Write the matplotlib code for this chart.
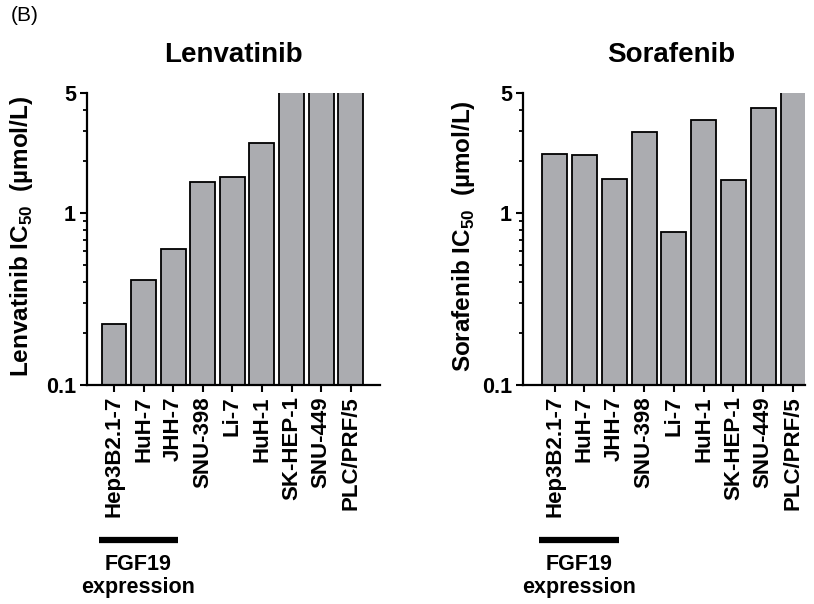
import numpy as np
import matplotlib
matplotlib.use('Agg')
import matplotlib.pyplot as plt
from matplotlib.ticker import FixedLocator, NullFormatter
import matplotlib.transforms as mtransforms

plt.rcParams['font.family'] = ['Liberation Sans', 'DejaVu Sans']

# cell lines, same order in both panels
cells = ['Hep3B2.1-7', 'HuH-7', 'JHH-7', 'SNU-398', 'Li-7', 'HuH-1',
         'SK-HEP-1', 'SNU-449', 'PLC/PRF/5']

# IC50 values (umol/L); values above 5 are off scale
lenvatinib_ic50 = [0.226, 0.41, 0.62, 1.52, 1.62, 2.55, 6.0, 6.0, 6.0]
sorafenib_ic50 = [2.22, 2.18, 1.59, 2.95, 0.776, 3.48, 1.56, 4.07, 6.0]

fgf19_cells = ['Hep3B2.1-7', 'HuH-7', 'JHH-7']

bar_color = '#ABACB0'
floor = 0.1

fig = plt.figure(figsize=(8.14, 6.04), dpi=100)

panels = [
    # axes rect, drug, values, xlim, ylabel x, title x
    ([87/814, 219/604, 293/814, 292/604], 'Lenvatinib', lenvatinib_ic50, (-0.91, 8.99), -0.222, 0.5),
    ([523/814, 219/604, 282/814, 292/604], 'Sorafenib', sorafenib_ic50, (-1.06, 8.40), -0.21, 0.525),
]

for rect, drug, vals, xlim, ylab_x, title_x in panels:
    ax = fig.add_axes(rect)
    x = np.arange(len(cells))
    heights = np.array(vals) - floor
    ax.bar(x, heights, bottom=floor, width=0.84, color=bar_color,
           edgecolor='black', linewidth=1.3, zorder=2)
    ax.set_yscale('log')
    ax.set_ylim(0.1, 5)
    ax.set_xlim(*xlim)

    ax.yaxis.set_major_locator(FixedLocator([0.1, 1, 5]))
    ax.set_yticklabels(['0.1', '1', '5'])
    ax.yaxis.set_minor_locator(FixedLocator([0.2, 0.3, 0.4, 0.5, 0.6, 0.7, 0.8, 0.9, 2, 3, 4]))
    ax.yaxis.set_minor_formatter(NullFormatter())

    ax.set_xticks(x)
    ax.set_xticklabels(cells, rotation=90, fontsize=16, fontweight='bold')
    for lab in ax.get_yticklabels():
        lab.set_fontsize(15.5)
        lab.set_fontweight('bold')

    for s in ['top', 'right']:
        ax.spines[s].set_visible(False)
    for s in ['left', 'bottom']:
        ax.spines[s].set_linewidth(1.6)

    ax.tick_params(axis='both', which='major', direction='out', length=5,
                   width=1.5, pad=3)
    ax.tick_params(axis='y', which='minor', direction='out', length=3.2, width=1.3)

    ax.text(title_x, 1.106, drug, transform=ax.transAxes, ha='center',
            va='baseline', fontsize=20, fontweight='bold')
    ax.text(ylab_x, 0.51, drug + ' IC$_{\\mathregular{50}}$  (\u00b5mol/L)',
            transform=ax.transAxes, rotation=90, ha='center', va='center',
            fontsize=17.5, fontweight='bold')

    # FGF19 expression bracket under the first three cell lines
    trans = mtransforms.blended_transform_factory(ax.transData, ax.transAxes)
    idx = [cells.index(c) for c in fgf19_cells]
    ax.plot([min(idx) - 0.52, max(idx) + 0.17], [-0.531, -0.531], color='black',
            linewidth=4.5, transform=trans, clip_on=False, solid_capstyle='butt')
    mid = (min(idx) - 0.52 + max(idx) + 0.17) / 2
    ax.text(mid, -0.634, 'FGF19', transform=trans, ha='center', va='baseline',
            fontsize=15.5, fontweight='bold')
    ax.text(mid, -0.712, 'expression', transform=trans, ha='center', va='baseline',
            fontsize=15.5, fontweight='bold')

fig.text(11/814, 1 - 6/604, '(B)', ha='left', va='top', fontsize=15)

fig.savefig('out.png', dpi=100)
